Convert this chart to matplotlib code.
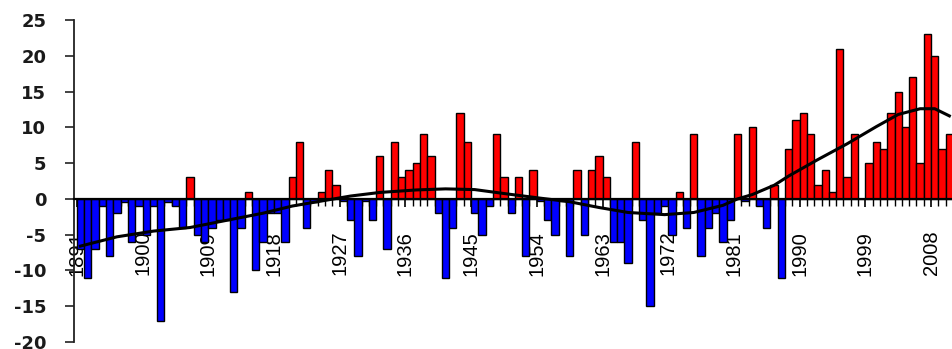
import numpy as np
import matplotlib
matplotlib.use("Agg")
import matplotlib.pyplot as plt

# ---- data ----
years = list(range(1891, 2011))
values = [
    -7, -11, -7, -1, -8, -2, -0.5, -6, -1, -5,      # 1891-1900
    -1, -17, -0.5, -1, -4, 3, -5, -6, -4, -3,       # 1901-1910
    -3, -13, -4, 1, -10, -6, -2, -2, -6, 3,         # 1911-1920
    8, -4, -0.5, 1, 4, 2, -0.3, -3, -8, -0.3,       # 1921-1930
    -3, 6, -7, 8, 3, 4, 5, 9, 6, -2,                # 1931-1940
    -11, -4, 12, 8, -2, -5, -1, 9, 3, -2,           # 1941-1950
    3, -8, 4, -0.3, -3, -5, -0.3, -8, 4, -5,        # 1951-1960
    4, 6, 3, -6, -6, -9, 8, -3, -15, -2,            # 1961-1970
    -1, -5, 1, -4, 9, -8, -4, -2, -6, -3,           # 1971-1980
    9, -0.3, 10, -1, -4, 2, -11, 7, 11, 12,         # 1981-1990
    9, 2, 4, 1, 21, 3, 9, 0, 5, 8,                  # 1991-2000
    7, 12, 15, 10, 17, 5, 23, 20, 7, 9,             # 2001-2010
]

# smoothed trend line (year, value)
trend_years = [1891, 1896, 1901, 1906, 1911, 1916, 1920, 1924, 1928, 1932,
               1937, 1941, 1945, 1949, 1954, 1958, 1962, 1966, 1971, 1975,
               1979, 1981, 1983, 1986, 1988, 1992, 1996, 2000, 2003, 2006,
               2008, 2010]
trend_vals = [-6.6, -5.3, -4.5, -4.0, -3.0, -2.0, -1.0, -0.3, 0.4, 0.9,
              1.25, 1.4, 1.3, 0.75, 0.1, -0.4, -1.2, -1.9, -2.2, -1.9,
              -0.9, 0.0, 0.6, 1.9, 3.2, 5.5, 7.7, 10.1, 11.8, 12.6,
              12.6, 11.6]

label_step = 9
y_ticks = list(range(-20, 26, 5))

# ---- drawing ----
fig = plt.figure(figsize=(9.53, 3.49), dpi=100)
ax = fig.add_axes([73.5 / 953, 7 / 349, (953 - 73.5) / 953, 322 / 349])

idx = np.arange(len(years))
colors = ['#FF0000' if v > 0 else '#0000FF' for v in values]
ax.bar(idx, values, width=1.0, color=colors, edgecolor='black',
       linewidth=1.0, zorder=2)

t_idx = np.array(trend_years) - years[0]
ax.plot(t_idx, trend_vals, color='black', lw=2.2, zorder=4)

ax.set_xlim(-0.95, 118.7)
ax.set_ylim(-20, 25)

# x axis at zero
for s in ['top', 'right']:
    ax.spines[s].set_visible(False)
ax.spines['bottom'].set_position(('data', 0))
ax.spines['bottom'].set_linewidth(1.6)
ax.spines['bottom'].set_zorder(5)
ax.spines['left'].set_linewidth(1.3)
ax.spines['left'].set_color('#222222')

maj_pos = np.arange(0, len(years), label_step) - 0.5
ax.set_xticks(maj_pos)
ax.set_xticklabels([str(years[int(p + 0.5)]) for p in maj_pos],
                   family='Liberation Sans', fontsize=14.5, rotation=90)
ax.set_xticks(np.arange(len(years) + 1) - 0.5, minor=True)
ax.tick_params(axis='x', which='major', direction='out', length=6,
               width=1.2, pad=17, colors='black')
ax.tick_params(axis='x', which='minor', direction='out', length=5, width=1.0)

ax.set_yticks(y_ticks)
ax.set_yticklabels([str(v) for v in y_ticks], family='DejaVu Sans',
                   fontweight='bold', fontsize=13, color='#1a1a1a')
ax.tick_params(axis='y', direction='out', length=6.5, width=1.2, pad=13,
               color='#222222')

fig.savefig('out.png', dpi=100)
